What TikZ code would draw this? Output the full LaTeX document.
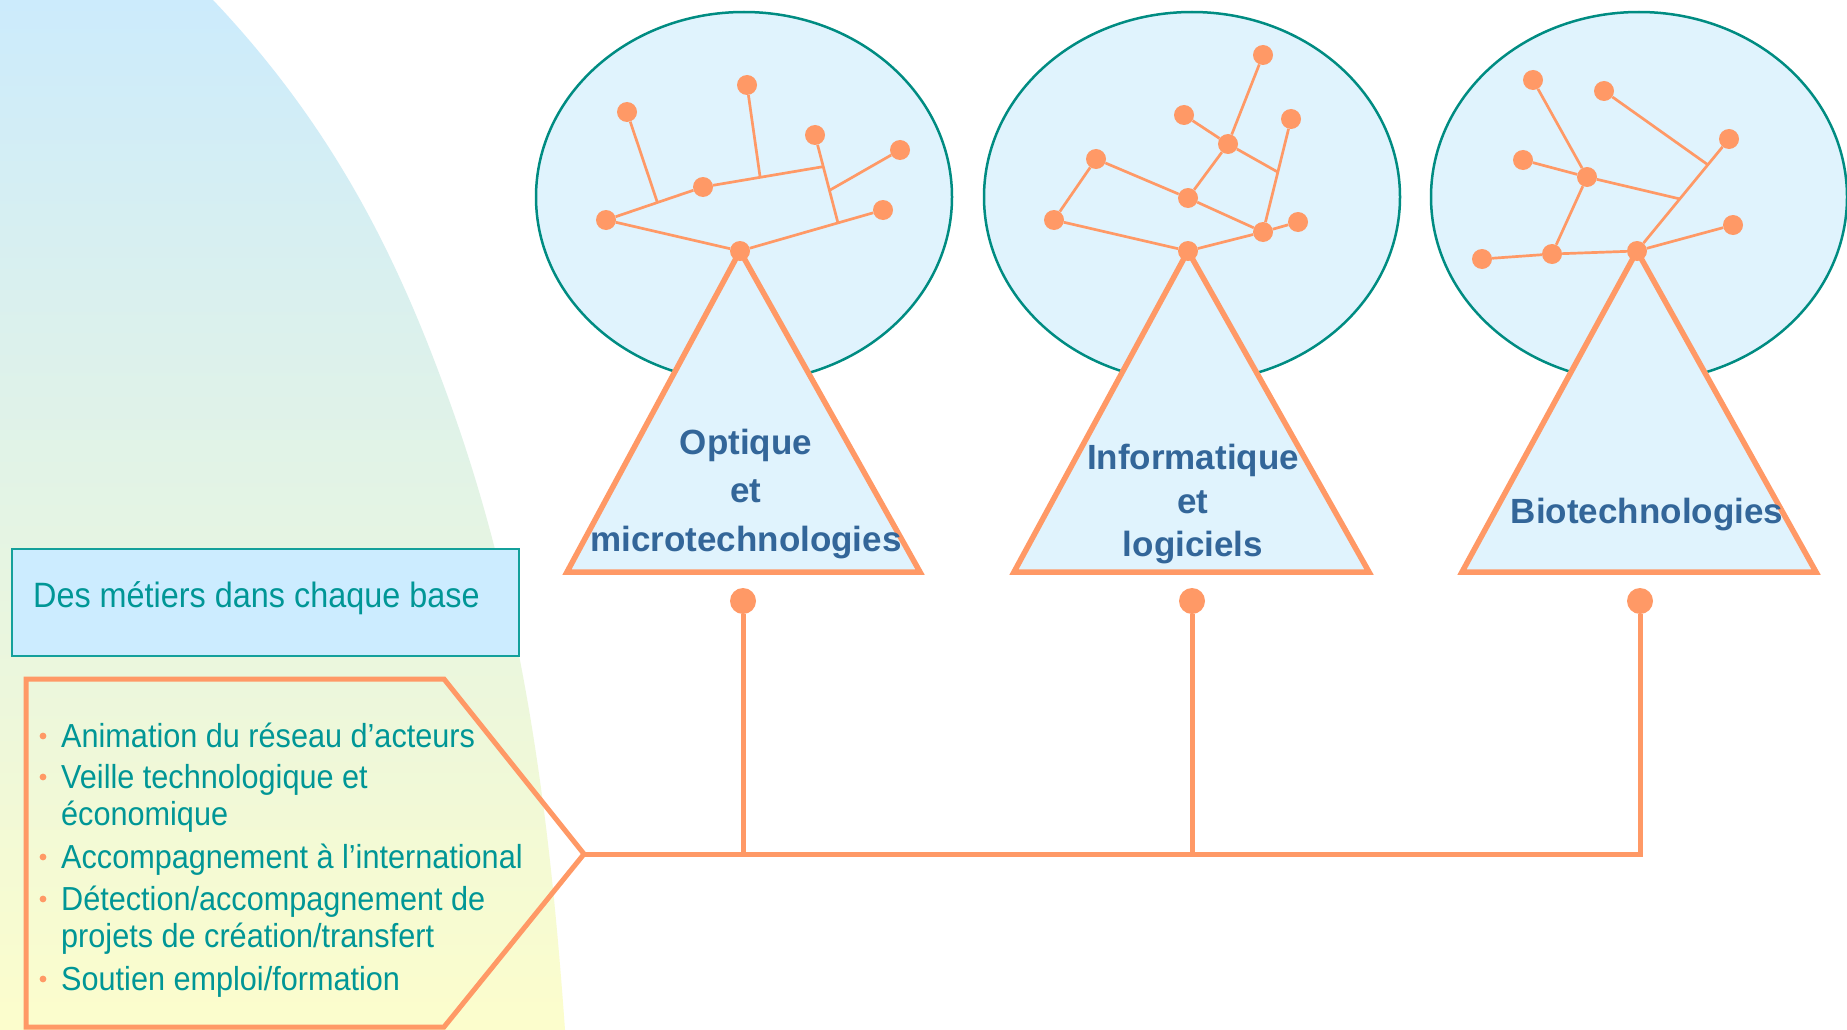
\documentclass[tikz,border=0pt]{standalone}
\usepackage{fontspec}
\setmainfont{Liberation Sans}
\newfontfamily\narrowfont[FakeStretch=0.92]{Liberation Sans}
\usetikzlibrary{calc}
\definecolor{orng}{RGB}{255,153,102}
\definecolor{tealc}{RGB}{0,140,130}
\definecolor{tealb}{RGB}{20,160,155}
\definecolor{tealt}{RGB}{0,150,150}
\definecolor{bluet}{RGB}{51,102,153}
\definecolor{boxfill}{RGB}{204,236,255}
\definecolor{bubfill}{RGB}{224,243,253}
\definecolor{bgtop}{RGB}{204,235,252}
\definecolor{bgbot}{RGB}{252,253,204}
\begin{document}
\begin{tikzpicture}[x=1pt,y=-1pt,
  netdot/.style={circle,fill=orng,inner sep=0pt,minimum size=20pt},
  bigdot/.style={circle,fill=orng,inner sep=0pt,minimum size=26pt},
  netline/.style={draw=orng,line width=2.7pt},
  bubble/.style={draw=tealc,line width=2.5pt,fill=bubfill},
  tribase/.style={draw=orng,line width=5.5pt,fill=bubfill},
  linkline/.style={draw=orng,line width=5pt},
  domlabel/.style={font=\fontsize{35}{42}\selectfont\bfseries,text=bluet,anchor=base,inner sep=0pt},
  listitem/.style={font=\narrowfont\fontsize{33.3}{40}\selectfont,text=tealt,anchor=base west,inner sep=0pt},
  bulletdot/.style={circle,fill=orng,inner sep=0pt,minimum size=6.8pt}
]
\useasboundingbox (0,0) rectangle (1847,1030);
\fill[white] (0,0) rectangle (1847,1030);
% background
\path[top color=bgtop,bottom color=bgbot] (0,0) -- (213,0)
  .. controls (339,133) and (401,267) .. (449,400)
  .. controls (525,610) and (550,820) .. (565,1030)
  -- (0,1030) -- cycle;

% bubbles
\draw[bubble] (744,197) ellipse [x radius=208pt, y radius=185pt];
\draw[bubble] (1192,197) ellipse [x radius=208pt, y radius=185pt];
\draw[bubble] (1639,197) ellipse [x radius=208pt, y radius=185pt];

% triangles
\coordinate (apex1) at (740,251);
\coordinate (apex2) at (1188,251);
\coordinate (apex3) at (1637,251);
\draw[tribase] (apex1) -- (567,572) -- (920,572) -- cycle;
\draw[tribase] (apex2) -- (1014,572) -- (1369,572) -- cycle;
\draw[tribase] (apex3) -- (1462,572) -- (1816,572) -- cycle;

% network 1
\node[netdot] (oR) at (apex1) {};
\node[netdot] (oA) at (606,220) {};
\node[netdot] (oB) at (703,187) {};
\node[netdot] (oC) at (627,112) {};
\node[netdot] (oD) at (747,85) {};
\node[netdot] (oE) at (815,135) {};
\node[netdot] (oF) at (900,150) {};
\node[netdot] (oG) at (883,210) {};
\coordinate (oJE) at ($(oR)!0.685!(oG)$);
\coordinate (oJB) at ($(oE)!0.36!(oJE)$);
\coordinate (oJC) at ($(oA)!0.53!(oB)$);
\coordinate (oJD) at ($(oB)!0.475!(oJB)$);
\coordinate (oJF) at ($(oE)!0.63!(oJE)$);
\draw[netline] (oA) -- (oR);
\draw[netline] (oR) -- (oG);
\draw[netline] (oA) -- (oB);
\draw[netline] (oB) -- (oJB);
\draw[netline] (oC) -- (oJC);
\draw[netline] (oD) -- (oJD);
\draw[netline] (oE) -- (oJE);
\draw[netline] (oF) -- (oJF);

% network 2
\node[netdot] (iR) at (apex2) {};
\node[netdot] (iL) at (1054,220) {};
\node[netdot] (iK) at (1096,159) {};
\node[netdot] (iM) at (1188,198) {};
\node[netdot] (iN) at (1263,232) {};
\node[netdot] (iS) at (1298,222) {};
\node[netdot] (iQ) at (1291,119) {};
\node[netdot] (iH) at (1228,144) {};
\node[netdot] (iP) at (1184,115) {};
\node[netdot] (iT) at (1263,55) {};
\coordinate (iJ) at ($(iN)!0.53!(iQ)$);
\draw[netline] (iL) -- (iR);
\draw[netline] (iL) -- (iK);
\draw[netline] (iK) -- (iM);
\draw[netline] (iM) -- (iN);
\draw[netline] (iN) -- (iR);
\draw[netline] (iN) -- (iS);
\draw[netline] (iN) -- (iQ);
\draw[netline] (iM) -- (iH);
\draw[netline] (iH) -- (iT);
\draw[netline] (iP) -- (iH);
\draw[netline] (iH) -- (iJ);

% network 3
\node[netdot] (bR) at (apex3) {};
\node[netdot] (ba) at (1533,80) {};
\node[netdot] (bb) at (1604,91) {};
\node[netdot] (bc) at (1729,139) {};
\node[netdot] (bd) at (1523,160) {};
\node[netdot] (be) at (1587,177) {};
\node[netdot] (bf) at (1733,225) {};
\node[netdot] (bg) at (1482,259) {};
\node[netdot] (bh) at (1552,254) {};
\coordinate (bJ1) at ($(bR)!0.465!(bc)$);
\coordinate (bJ2) at ($(bR)!0.77!(bc)$);
\draw[netline] (bg) -- (bh);
\draw[netline] (bh) -- (bR);
\draw[netline] (bh) -- (be);
\draw[netline] (be) -- (ba);
\draw[netline] (be) -- (bd);
\draw[netline] (be) -- (bJ1);
\draw[netline] (bR) -- (bc);
\draw[netline] (bR) -- (bf);
\draw[netline] (bb) -- (bJ2);

% triangle labels
\node[domlabel] (t1a) at (746,454) {Optique};
\node[domlabel] (t1b) at (746,502) {et};
\node[domlabel] (t1c) at (746,551) {microtechnologies};
\node[domlabel] (t2a) at (1193,469) {Informatique};
\node[domlabel] (t2b) at (1193,513) {et};
\node[domlabel] (t2c) at (1193,556) {logiciels};
\node[domlabel] (t3a) at (1647,523) {Biotechnologies};

% header box
\draw[draw=tealb,line width=2pt,fill=boxfill] (12,549) rectangle (519,656);
\node[listitem,font=\narrowfont\fontsize{35.2}{42}\selectfont] (hdr) at (33,607) {Des métiers dans chaque base};

% chevron
\coordinate (tip) at (584,854);
\draw[draw=orng,line width=5pt] (444,679) -- (tip) -- (444,1027) -- (26,1027) -- (26,679) -- cycle;

% list
\node[bulletdot] (u1) at (43,736) {};
\node[listitem] (l1) at (61,747) {Animation du réseau d’acteurs};
\node[bulletdot] (u2) at (43,777) {};
\node[listitem] (l2) at (61,788) {Veille technologique et};
\node[listitem] (l2b) at (61,825) {économique};
\node[bulletdot] (u3) at (43,857) {};
\node[listitem] (l3) at (61,868) {Accompagnement à l’international};
\node[bulletdot] (u4) at (43,899) {};
\node[listitem] (l4) at (61,910) {Détection/accompagnement de};
\node[listitem] (l4b) at (61,947) {projets de création/transfert};
\node[bulletdot] (u5) at (43,979) {};
\node[listitem] (l5) at (61,990) {Soutien emploi/formation};

% connectors to bases
\node[bigdot] (k1) at (743,601) {};
\node[bigdot] (k2) at (1192,601) {};
\node[bigdot] (k3) at (1640,601) {};
\draw[linkline] (k3) -- (k3 |- tip) -- (tip);
\draw[linkline] (k1) -- (k1 |- tip);
\draw[linkline] (k2) -- (k2 |- tip);
\end{tikzpicture}
\end{document}
